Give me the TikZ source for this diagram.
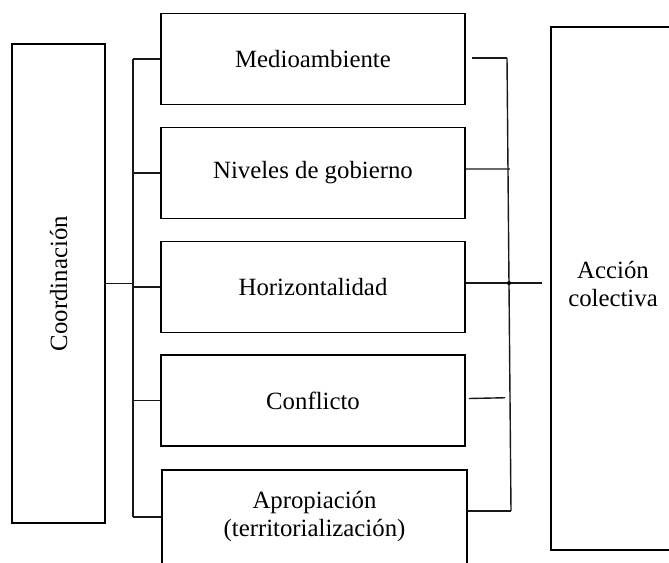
\documentclass[tikz,border=0pt]{standalone}
\usepackage{fontspec}
\setmainfont{Liberation Serif}
\usepackage{tikz}
\usetikzlibrary{calc}

\tikzset{
	caja/.style={draw,rectangle,line width=0.8pt,align=center,inner sep=0pt,
		minimum width=152pt,minimum height=45.5pt},
	enlace/.style={line width=0.7pt,black!90}
}

\begin{document}
\begin{tikzpicture}[x=0.5pt,y=-0.5pt,font=\fontsize{12.4}{14}\selectfont]
		\useasboundingbox (0,0) rectangle (669,562);
		\clip (0,0) rectangle (669,562);
		\node[caja,minimum width=46.5pt,minimum height=239.5pt] (Co) at (58.5,283.5) {};
		\node[rotate=90] at (Co.center) {Coordinación};
		\node[caja] (M1) at (313,59) {Medioambiente};
		\node[caja] (M2) at (313,173) {Niveles de gobierno};
		\node[caja] (M3) at (313,287) {Horizontalidad};
		\node[caja] (M4) at (313,400.5) {Conflicto};
		\node[caja,minimum width=152.5pt,minimum height=47pt] (M5) at (314.5,517)
			{Apropiación\\(territorialización)};
		\node[caja,minimum width=62pt,minimum height=261.5pt] (Ac) at (613,288.5) {};
		\node[align=center] at (613,284) {Acción\\colectiva};
		%
		\coordinate (I1) at (133,59);
		\coordinate (I2) at (133,517);
		\coordinate (D1) at (507,58);
		\coordinate (D2) at (511,511);
		%
		\path[enlace]
		(I1) edge (I2)
		(Co.east) edge (Co.east -| I1)
		(I1 |- M1.west) edge (M1.west)
		(I1 |- M2.west) edge (M2.west)
		(I1 |- M3.west) edge (M3.west)
		(I1 |- M4.west) edge (M4.west)
		(I1 |- M5.west) edge (M5.west)
		(D1) edge (D2)
		([xshift=3pt]M1.east |- D1) edge (D1)
		([yshift=2pt]M2.east) edge ($(D1)!0.245!(D2)+(2,0)$)
		([yshift=2pt]M3.east) edge ($([yshift=2pt]M3.east -| Ac.west)+(-8,0)$)
		([xshift=1.5pt,yshift=1pt]M4.east) edge ($(D1)!0.75!(D2)+(-5,0)$)
		(M5.east |- D2) edge (D2);
		\fill ($(D1)!0.497!(D2)$) circle (2);
		\end{tikzpicture}
\end{document}
